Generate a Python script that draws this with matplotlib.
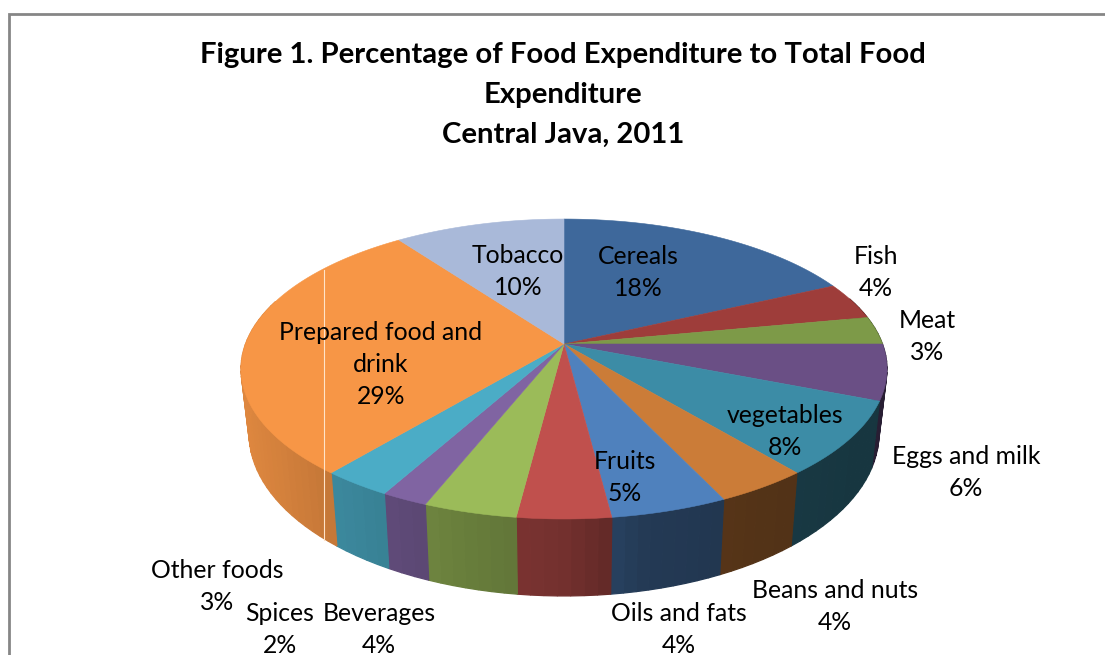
import numpy as np
import matplotlib
matplotlib.use("Agg")
import matplotlib.pyplot as plt

# ── Data ──────────────────────────────────────────────────────────────────────
categories = ["Cereals", "Fish", "Meat", "Eggs and milk", "vegetables", "Beans and nuts",
              "Fruits", "Oils and fats", "Beverages", "Spices", "Other foods",
              "Prepared food and\ndrink", "Tobacco"]
shares = [18, 4, 3, 6, 8, 4, 5, 4, 4, 2, 3, 29, 10]
title_lines = ["Figure 1. Percentage of Food Expenditure to Total Food",
               "Expenditure", "Central Java, 2011"]

# ── Style ─────────────────────────────────────────────────────────────────────
colors = ["#3E689B", "#9E3D3A", "#7D9A48", "#6A4F85", "#3C8CA6", "#CB7C38",
          "#4F81BD", "#C0504D", "#9BBB59", "#8064A2", "#4BACC6", "#F79646", "#A9B9D9"]
label_centers = [(638, 271), (876, 271), (927, 335), (966, 471), (785, 430), (835, 605),
                 (625, 476), (679, 628), (379, 628), (280, 628), (217, 585), (381, 363), (518, 270)]
LINE_PITCH = 32.5
TITLE_BASELINES = [63, 103, 143]
CX, CY = 564, 344            # apex of the pie on the canvas
RX, RY, PERSP = 318.5, 145.8, 0.1667
BOTTOM_CY, BOTTOM_SX, BOTTOM_SY = 406.3, 0.975, 1.084
# how much the side wall darkens from left to right
shade_x = [-323, -240, -170, -100, 0, 80, 200, 323]
shade_k = [0.90, 0.80, 0.74, 0.67, 0.60, 0.45, 0.41, 0.38]


def project(theta):
    """Angle clockwise from 12 o'clock -> offsets of the tilted disk edge."""
    u, v = np.sin(theta), np.cos(theta)
    w = 1 + PERSP * v
    return RX * u / w, -RY * v / w


fig = plt.figure(figsize=(11.05, 6.55), dpi=100)
ax = fig.add_axes([0, 0, 1, 1])
ax.set_xlim(0, 1105)
ax.set_ylim(655, 0)
ax.axis("off")

fractions = np.cumsum([0] + shares) / sum(shares)
edges = fractions * 2 * np.pi

# side wall, cut in narrow strips so the shading can vary
for start, end, col in zip(edges[:-1], edges[1:], colors):
    n = max(2, int(np.degrees(end - start) / 2.0))
    t = np.linspace(start, end, n + 1)
    dx, dy = project(t)
    base = np.array(matplotlib.colors.to_rgb(col))
    for i in range(n):
        if np.cos(t[i]) > 0.3 and np.cos(t[i + 1]) > 0.3:
            continue
        xs = [CX + dx[i], CX + dx[i + 1],
              CX + BOTTOM_SX * dx[i + 1], CX + BOTTOM_SX * dx[i]]
        ys = [CY + dy[i], CY + dy[i + 1],
              BOTTOM_CY + BOTTOM_SY * dy[i + 1], BOTTOM_CY + BOTTOM_SY * dy[i]]
        k = np.interp((dx[i] + dx[i + 1]) / 2, shade_x, shade_k)
        shade = tuple(base * k)
        ax.fill(xs, ys, facecolor=shade, edgecolor=shade, linewidth=0.9, zorder=2)

# top face
for start, end, col in zip(edges[:-1], edges[1:], colors):
    t = np.linspace(start, end, 120)
    dx, dy = project(t)
    ax.fill(np.r_[CX, CX + dx], np.r_[CY, CY + dy], facecolor=col, edgecolor=col,
            linewidth=0.4, zorder=3)

# pale seam running through the orange slice
ax.plot([323.5, 323.5], [270, 540], color="#FFE3C8", linewidth=0.8, zorder=4)

# chart frame: only top and left edges are visible
ax.plot([8.5, 8.5, 1105], [655, 14, 14], color="#868686", linewidth=2.0,
        solid_joinstyle="miter", zorder=1)

font = "Lato"
for line, base_y in zip(title_lines, TITLE_BASELINES):
    ax.text(563, base_y, line, ha="center", va="baseline", family=font, fontsize=21.1,
            fontweight="bold", color="black", zorder=5)

# each label line is its own text: neighbouring labels interlock at the bottom left
for name, share, (x, y) in zip(categories, shares, label_centers):
    lines = name.split("\n") + [f"{share}%"]
    for i, line in enumerate(lines):
        base_y = y + LINE_PITCH * (i - (len(lines) - 1) / 2) + 9
        ax.text(x, base_y, line, ha="center", va="baseline", family=font,
                fontsize=17.8, color="black", zorder=5)

fig.savefig("out.png", dpi=100, facecolor="white")
